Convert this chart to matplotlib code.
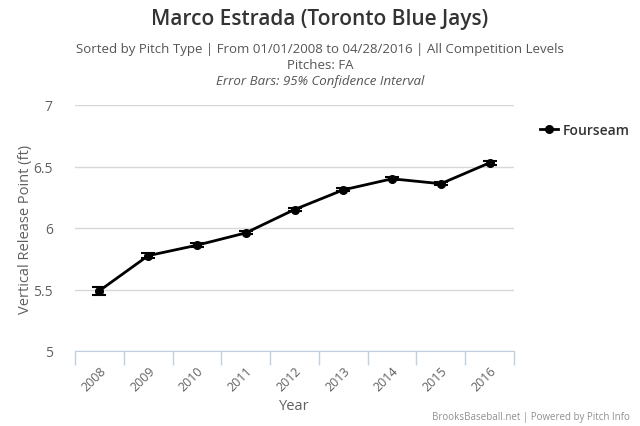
import matplotlib
matplotlib.use("Agg")
import matplotlib.pyplot as plt
from matplotlib.lines import Line2D

plt.rcParams['font.family'] = ['Open Sans', 'DejaVu Sans']

years = ['2008', '2009', '2010', '2011', '2012', '2013', '2014', '2015', '2016']
release = [5.49, 5.775, 5.86, 5.96, 6.15, 6.31, 6.40, 6.36, 6.53]
ci = [0.033, 0.022, 0.018, 0.012, 0.012, 0.012, 0.012, 0.014, 0.014]

fig = plt.figure(figsize=(6.4, 4.27), dpi=100)
ax = fig.add_axes([75/640, 1-352/427, 439/640, 246/427])

x = list(range(len(years)))
ax.errorbar(x, release, yerr=ci, color='black', lw=2, marker='o', ms=5.5,
            capsize=5, capthick=1.5, elinewidth=1.5, zorder=3)

ax.set_xlim(-0.5, len(years) - 0.5)
ax.set_ylim(5, 7)
ax.set_yticks([5, 5.5, 6, 6.5, 7])
ax.set_yticklabels(['5', '5.5', '6', '6.5', '7'])
ax.set_xticks(x)
ax.set_xticklabels(years, rotation=45, ha='right', rotation_mode='anchor')
ax.set_xticks([i - 0.5 for i in range(len(years) + 1)], minor=True)

ax.grid(axis='y', color='#d8d8d8', lw=1)
ax.set_axisbelow(True)
for s in ['top', 'right', 'left']:
    ax.spines[s].set_visible(False)
ax.spines['bottom'].set_color('#c0d0e0')
ax.tick_params(axis='y', length=0, labelsize=10, labelcolor='#606060', pad=16)
ax.tick_params(axis='x', which='major', length=0, labelsize=9, labelcolor='#606060', pad=9)
ax.tick_params(axis='x', which='minor', length=10, color='#c0d0e0', width=1)

ax.set_xlabel('Year', fontsize=10.5, color='#606060', labelpad=4)
ax.set_ylabel('Vertical Release Point (ft)', fontsize=10.5, color='#606060')
ax.yaxis.set_label_coords(-42/439, 0.5)

fig.text(0.5, 1-19/427, 'Marco Estrada (Toronto Blue Jays)', ha='center', va='center',
         fontsize=15, color='#333333', fontweight='semibold')
fig.text(0.5, 1-50/427, 'Sorted by Pitch Type | From 01/01/2008 to 04/28/2016 | All Competition Levels',
         ha='center', va='center', fontsize=9.5, color='#555555')
fig.text(0.5, 1-66/427, 'Pitches: FA', ha='center', va='center', fontsize=9.5, color='#555555')
fig.text(0.5, 1-82/427, 'Error Bars: 95% Confidence Interval', ha='center', va='center',
         fontsize=9.5, color='#555555', style='italic')
fig.text(1-10/640, 1-418/427, 'BrooksBaseball.net | Powered by Pitch Info', ha='right', va='center',
         fontsize=7, color='#909090')

handle = Line2D([], [], color='black', lw=2, marker='o', ms=5.5)
leg = fig.legend([handle], ['Fourseam'], loc='center left', bbox_to_anchor=(527/640, 1-131/427),
                 frameon=False, prop={'size': 10, 'weight': 'semibold'},
                 handlelength=1.3, handletextpad=0.4)
for t in leg.get_texts():
    t.set_color('#333333')

fig.savefig('out.png', dpi=100)
